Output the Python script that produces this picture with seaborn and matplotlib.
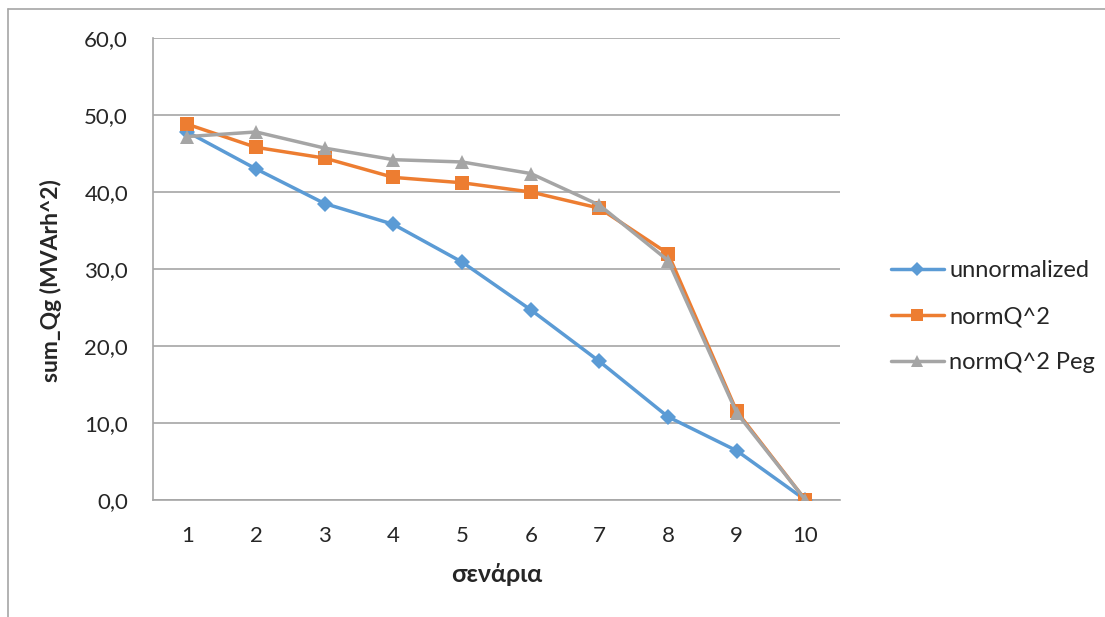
import matplotlib
matplotlib.use("Agg")
import matplotlib.pyplot as plt
from matplotlib.lines import Line2D
import numpy as np
import pandas as pd
import seaborn as sns

# Scenario numbers and the summed reactive generation for each weighting scheme
scenarios = [1, 2, 3, 4, 5, 6, 7, 8, 9, 10]
unnormalized = [47.8, 43.0, 38.5, 35.8, 30.9, 24.7, 18.0, 10.8, 6.4, 0.0]
norm_q2 = [48.8, 45.8, 44.4, 41.9, 41.2, 40.0, 37.9, 32.0, 11.5, 0.0]
norm_q2_peg = [47.2, 47.8, 45.7, 44.2, 43.9, 42.4, 38.3, 31.1, 11.3, 0.0]

series_names = ["unnormalized", "normQ^2", "normQ^2 Peg"]
y_ticks = [0, 10, 20, 30, 40, 50, 60]

df = pd.DataFrame({
    "scenario": scenarios * 3,
    "value": unnormalized + norm_q2 + norm_q2_peg,
    "series": np.repeat(series_names, len(scenarios)),
})

sns.set_style("white")
plt.rcParams["font.family"] = ["Lato", "DejaVu Sans"]

palette = {"unnormalized": "#5B9BD5", "normQ^2": "#ED7D31", "normQ^2 Peg": "#A5A5A5"}
markers = {"unnormalized": "D", "normQ^2": "s", "normQ^2 Peg": "^"}
msizes = {"unnormalized": 8, "normQ^2": 10, "normQ^2 Peg": 10}

fig = plt.figure(figsize=(11.05, 6.17), dpi=100)
ax = fig.add_axes([0.1385, 0.1896, 0.6215, 0.7488])

for name in series_names:
    sub = df[df["series"] == name]
    sns.lineplot(data=sub, x="scenario", y="value", ax=ax, color=palette[name],
                 marker=markers[name], markersize=msizes[name], markeredgewidth=0,
                 linewidth=2.5, label=name, legend=False, zorder=3)

ax.set_xlim(0.5, 10.5)
ax.set_ylim(0, 60)
ax.set_xticks(scenarios)
ax.set_xticklabels([str(s) for s in scenarios], fontsize=16)
ax.set_yticks(y_ticks)
ax.set_yticklabels([f"{v:.1f}".replace(".", ",") for v in y_ticks], fontsize=16)
ax.yaxis.grid(True, color="#A6A6A6", linewidth=1.2)
ax.set_axisbelow(True)
for side in ["top", "right"]:
    ax.spines[side].set_visible(False)
for side in ["left", "bottom"]:
    ax.spines[side].set_color("#A6A6A6")
    ax.spines[side].set_linewidth(1.2)
ax.tick_params(axis="y", length=4, color="#A6A6A6", width=1.2, pad=14)
ax.tick_params(axis="x", length=0, pad=19)

ax.set_xlabel("σενάρια", fontsize=18, fontweight="bold", labelpad=12)
ax.set_ylabel("sum_Qg (MVArh^2)", fontsize=16.5, fontweight="bold")
ax.yaxis.set_label_coords(-0.133, 0.475)

handles = [Line2D([0], [0], color=palette[n], marker=markers[n], markersize=msizes[n] - 1,
                  markeredgewidth=0, linewidth=2.5) for n in series_names]
fig.legend(handles, series_names, loc="center left", bbox_to_anchor=(0.787, 0.487),
           frameon=False, fontsize=17, handlelength=2.25, handletextpad=0.22,
           labelspacing=1.05)

# Thin frame around the chart
fig.add_artist(Line2D([8 / 1105, 1.0], [1 - 8.5 / 617] * 2, transform=fig.transFigure,
                      color="#A6A6A6", linewidth=1.2))
fig.add_artist(Line2D([8 / 1105] * 2, [0.0, 1 - 8.5 / 617], transform=fig.transFigure,
                      color="#A6A6A6", linewidth=1.2))

fig.savefig("out.png", dpi=100, facecolor="white")
